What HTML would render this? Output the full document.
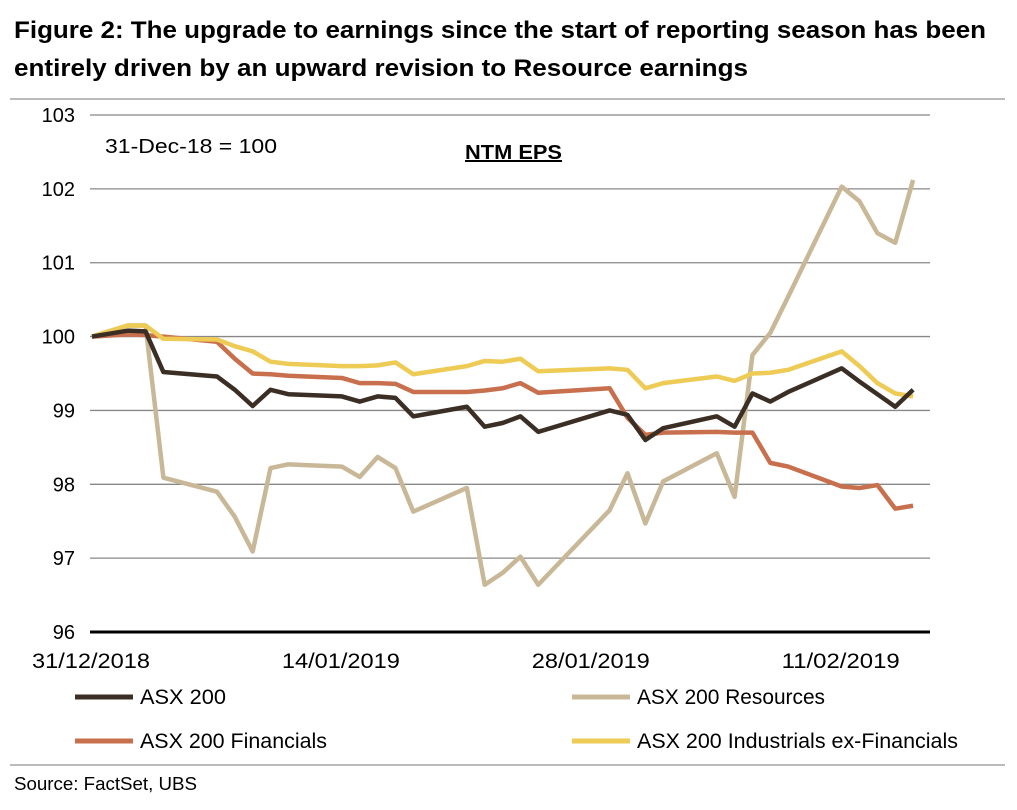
<!DOCTYPE html>
<html><head><meta charset="utf-8"><style>
body{margin:0;background:#fff;width:1017px;height:805px;overflow:hidden;font-family:"Liberation Sans",sans-serif}
</style></head><body>
<svg width="1017" height="805" font-family="Liberation Sans, sans-serif">
<text x="14" y="38" font-size="24" font-weight="bold" fill="#000" textLength="972" lengthAdjust="spacingAndGlyphs">Figure 2: The upgrade to earnings since the start of reporting season has been</text>
<text x="14" y="76" font-size="24" font-weight="bold" fill="#000" textLength="734" lengthAdjust="spacingAndGlyphs">entirely driven by an upward revision to Resource earnings</text>
<line x1="10" y1="99" x2="1005" y2="99" stroke="#bbb" stroke-width="2"/>
<g id="grid"></g>
<g id="yt" font-size="20" fill="#000"></g>
<g id="xt" font-size="21" fill="#000"></g>
<text x="105" y="153" font-size="20" textLength="172" lengthAdjust="spacingAndGlyphs">31-Dec-18 = 100</text>
<text x="465" y="159" font-size="20" font-weight="bold" textLength="97" lengthAdjust="spacingAndGlyphs" text-decoration="underline">NTM EPS</text>
<g id="lines"></g>
<g font-size="21">
<line x1="75" y1="697" x2="133" y2="697" stroke="#3b2f25" stroke-width="5"/>
<text x="140" y="704" textLength="86" lengthAdjust="spacingAndGlyphs">ASX 200</text>
<line x1="572" y1="697" x2="630" y2="697" stroke="#c8b898" stroke-width="5"/>
<text x="637" y="704" textLength="188" lengthAdjust="spacingAndGlyphs">ASX 200 Resources</text>
<line x1="75" y1="741" x2="133" y2="741" stroke="#c8704e" stroke-width="5"/>
<text x="140" y="748" textLength="187" lengthAdjust="spacingAndGlyphs">ASX 200 Financials</text>
<line x1="572" y1="741" x2="630" y2="741" stroke="#eecb55" stroke-width="5"/>
<text x="637" y="748" textLength="321" lengthAdjust="spacingAndGlyphs">ASX 200 Industrials ex-Financials</text>
</g>
<line x1="10" y1="765" x2="1005" y2="765" stroke="#bbb" stroke-width="2"/>
<text x="14" y="790" font-size="18" textLength="183" lengthAdjust="spacingAndGlyphs">Source: FactSet, UBS</text>
</svg>
<script>
const days=[0,2,3,4,7,8,9,10,11,14,15,16,17,18,21,22,23,24,25,29,30,31,32,35,36,37,38,39,42,43,44,45,46];
const asx200=[100,100.08,100.07,99.52,99.46,99.28,99.06,99.28,99.22,99.19,99.12,99.19,99.17,98.92,99.05,98.78,98.83,98.92,98.71,99.0,98.94,98.6,98.76,98.92,98.78,99.23,99.12,99.25,99.57,99.39,99.22,99.05,99.28];
const resources=[100,100.15,100.15,98.09,97.9,97.56,97.09,98.22,98.27,98.24,98.1,98.37,98.22,97.63,97.95,96.64,96.8,97.02,96.64,97.65,98.15,97.47,98.04,98.42,97.83,99.75,100.05,100.54,102.03,101.83,101.4,101.27,102.12];
const financials=[100,100.03,100.02,100.0,99.93,99.7,99.5,99.49,99.47,99.44,99.37,99.37,99.36,99.25,99.25,99.27,99.3,99.37,99.24,99.3,98.9,98.67,98.7,98.71,98.7,98.7,98.29,98.24,97.97,97.95,97.99,97.67,97.71];
const industrials=[100,100.15,100.15,99.97,99.96,99.87,99.8,99.66,99.63,99.6,99.6,99.61,99.65,99.49,99.6,99.67,99.66,99.7,99.53,99.57,99.55,99.3,99.37,99.46,99.4,99.5,99.51,99.55,99.8,99.6,99.37,99.23,99.19];
const yTicks=[96,97,98,99,100,101,102,103];
const xTickDays=[0,14,28,42];
const xTickLabels=["31/12/2018","14/01/2019","28/01/2019","11/02/2019"];
const NS="http://www.w3.org/2000/svg";
const X0=92,X1=930,PX=17.85;
const x=d=>X0+d*PX;
const y=v=>115+(103-v)*73.86;
const grid=document.getElementById('grid'),yt=document.getElementById('yt'),xt=document.getElementById('xt'),lines=document.getElementById('lines');
yTicks.forEach(v=>{
 const l=document.createElementNS(NS,'line');
 
 
 l.setAttribute('x1',90);l.setAttribute('x2',X1);l.setAttribute('y1',y(v));l.setAttribute('y2',y(v));
 l.setAttribute('stroke',v===96?'#000':'#888');l.setAttribute('stroke-width',v===96?3:1.3);
 grid.appendChild(l);
 const t=document.createElementNS(NS,'text');
 
 
 t.setAttribute('x',75);t.setAttribute('y',y(v)+7);t.setAttribute('text-anchor','end');t.textContent=v;
 yt.appendChild(t);
});
xTickDays.forEach((d,i)=>{
 const t=document.createElementNS(NS,'text');
 
 
 t.setAttribute('x',x(d)-1);t.setAttribute('y',668);t.setAttribute('text-anchor','middle');
 t.setAttribute('textLength',118);t.setAttribute('lengthAdjust','spacingAndGlyphs');
 t.textContent=xTickLabels[i];
 xt.appendChild(t);
});
[[resources,'#c8b898','line-resources'],[financials,'#c8704e','line-financials'],[industrials,'#eecb55','line-industrials'],[asx200,'#3b2f25','line-asx200']].forEach(([s,c,n])=>{
 const p=document.createElementNS(NS,'polyline');
 
 
 p.setAttribute('points',s.map((v,i)=>x(days[i])+','+y(v)).join(' '));
 p.setAttribute('fill','none');p.setAttribute('stroke',c);p.setAttribute('stroke-width',4.5);p.setAttribute('stroke-linejoin','round');
 lines.appendChild(p);
});
</script>
</body></html>
